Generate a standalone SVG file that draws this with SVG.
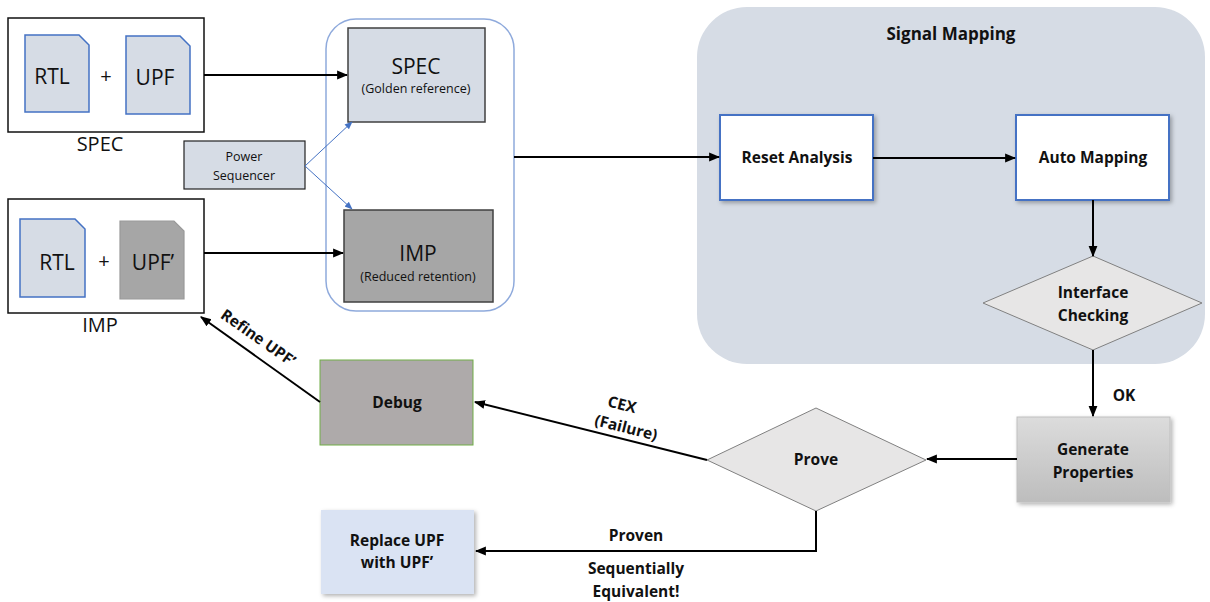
<svg xmlns="http://www.w3.org/2000/svg" width="1210" height="602" viewBox="0 0 1210 602">
<style>
text{font-family:"Open Sans","Liberation Sans",sans-serif;fill:#111;text-anchor:middle}
.b{font-weight:bold;font-size:15.5px}
.doc{fill:#d6dce5;stroke:#4472c4;stroke-width:1.5}
.outer{fill:#fff;stroke:#111;stroke-width:1.5}
.conn{stroke:#000;stroke-width:2;fill:none}
.blue{stroke:#4472c4;stroke-width:1;fill:none}
</style>
<defs>
<marker id="ah" viewBox="0 0 10 10" refX="9" refY="5" markerWidth="5.5" markerHeight="5.5" orient="auto"><path d="M0,1 L10,5 L0,9 z" fill="#000"/></marker>
<marker id="bh" viewBox="0 0 10 10" refX="9" refY="5" markerWidth="8" markerHeight="8" orient="auto"><path d="M0,1 L10,5 L0,9 z" fill="#4472c4"/></marker>
<filter id="sh" x="-10%" y="-10%" width="125%" height="130%"><feDropShadow dx="2" dy="2" stdDeviation="2" flood-color="#000" flood-opacity="0.3"/></filter>
<linearGradient id="gg" x1="0" y1="0" x2="0" y2="1"><stop offset="0" stop-color="#dcdcdc"/><stop offset="1" stop-color="#bdbdbd"/></linearGradient>
</defs>

<g id="signal-mapping">
<rect x="697" y="7" width="508" height="357" rx="50" fill="#d6dce5"/>
<text x="951" y="40" style="font-weight:bold;font-size:17px">Signal Mapping</text>
</g>

<g id="spec-src">
<rect class="outer" x="8" y="18" width="196" height="114"/>
<path class="doc" d="M25,35 H79 L89,45 V112 H25 Z"/>
<text x="52" y="84" font-size="21">RTL</text>
<text x="106" y="83" font-size="20">+</text>
<path class="doc" d="M126,36 H180 L190,46 V114 H126 Z"/>
<text x="155" y="85" font-size="21">UPF</text>
<text x="100" y="151" font-size="20">SPEC</text>
</g>

<g id="power-seq">
<rect x="184" y="141" width="121" height="48" fill="#d6dce5" stroke="#222" stroke-width="1.2"/>
<text x="244" y="161" font-size="12.5" fill="#333">Power</text>
<text x="244" y="180" font-size="12.5" fill="#333">Sequencer</text>
</g>

<g id="imp-src">
<rect class="outer" x="8" y="199" width="196" height="114"/>
<path class="doc" d="M20,219 H75 L85,229 V297 H20 Z"/>
<text x="57" y="270" font-size="21">RTL</text>
<text x="104" y="268" font-size="20">+</text>
<path d="M120,221 H174 L184,231 V299 H120 Z" fill="#a6a6a6" stroke="#999" stroke-width="1.2"/>
<text x="153" y="270" font-size="21">UPF’</text>
<text x="100" y="332" font-size="20">IMP</text>
</g>

<g id="models">
<rect x="326" y="19" width="188" height="292" rx="30" fill="#fff" stroke="#8faadc" stroke-width="1.5"/>
</g>
<g id="spec-model">
<rect x="348" y="28" width="137" height="94" fill="#d6dce5" stroke="#404040" stroke-width="1.5"/>
<text x="416" y="74" font-size="21">SPEC</text>
<text x="416" y="93" font-size="12.5" fill="#333">(Golden reference)</text>
</g>
<g id="imp-model">
<rect x="344" y="210" width="149" height="92" fill="#a6a6a6" stroke="#404040" stroke-width="1.5"/>
<text x="418" y="261" font-size="21">IMP</text>
<text x="418" y="281" font-size="12.5" fill="#333">(Reduced retention)</text>
</g>

<g id="reset-analysis">
<rect x="720" y="115" width="153" height="85" fill="#fff" stroke="#4472c4" stroke-width="2" filter="url(#sh)"/>
<text class="b" x="797" y="163">Reset Analysis</text>
</g>
<g id="auto-mapping">
<rect x="1016" y="115" width="153" height="85" fill="#fff" stroke="#4472c4" stroke-width="2" filter="url(#sh)"/>
<text class="b" x="1093" y="163">Auto Mapping</text>
</g>
<g id="interface-checking">
<polygon points="1093,256 1202,303 1093,350 983,303" fill="#e7e6e6" stroke="#808080" stroke-width="1"/>
<text class="b" x="1093" y="298">Interface</text>
<text class="b" x="1093" y="321">Checking</text>
</g>
<g id="generate-properties">
<rect x="1017" y="417" width="153" height="85" fill="url(#gg)" stroke="#bfbfbf" stroke-width="1" filter="url(#sh)"/>
<text class="b" x="1093" y="455">Generate</text>
<text class="b" x="1093" y="478">Properties</text>
</g>
<g id="prove">
<polygon points="816,408 926,460 816,511 707,460" fill="#e7e6e6" stroke="#808080" stroke-width="1"/>
<text class="b" x="816" y="465">Prove</text>
</g>
<g id="debug">
<rect x="320" y="360" width="153" height="85" fill="#aeaaaa" stroke="#70ad47" stroke-width="1"/>
<text class="b" x="397" y="408">Debug</text>
</g>
<g id="replace">
<rect x="321" y="510" width="153" height="84" fill="#dae3f3" filter="url(#sh)"/>
<text class="b" x="397" y="546">Replace UPF</text>
<text class="b" x="397" y="568">with UPF’</text>
</g>

<g id="connectors">
<line class="conn" x1="204" y1="75" x2="347" y2="75" marker-end="url(#ah)"/>
<line class="conn" x1="204" y1="253" x2="343" y2="253" marker-end="url(#ah)"/>
<line class="blue" x1="305" y1="166" x2="352" y2="122" marker-end="url(#bh)"/>
<line class="blue" x1="305" y1="166" x2="352" y2="209" marker-end="url(#bh)"/>
<line class="conn" x1="514" y1="157" x2="719" y2="157" marker-end="url(#ah)"/>
<line class="conn" x1="873" y1="158" x2="1015" y2="158" marker-end="url(#ah)"/>
<line class="conn" x1="1093" y1="200" x2="1093" y2="256" marker-end="url(#ah)"/>
<line class="conn" x1="1093" y1="350" x2="1093" y2="416" marker-end="url(#ah)"/>
<line class="conn" x1="1017" y1="459" x2="927" y2="459" marker-end="url(#ah)"/>
<line class="conn" x1="707" y1="460" x2="475" y2="402" marker-end="url(#ah)"/>
<line class="conn" x1="320" y1="402" x2="201" y2="317" marker-end="url(#ah)"/>
<polyline class="conn" points="816,511 816,551 476,551" marker-end="url(#ah)"/>
<text class="b" x="1124" y="401">OK</text>
<text class="b" x="622" y="410" transform="rotate(14 622 405)">CEX</text>
<text class="b" x="626" y="433" transform="rotate(14 626 428)">(Failure)</text>
<text class="b" x="258" y="343" transform="rotate(35 258 338)">Refine UPF’</text>
<text class="b" x="636" y="541">Proven</text>
<text class="b" x="636" y="574">Sequentially</text>
<text class="b" x="636" y="597">Equivalent!</text>
</g>
</svg>
